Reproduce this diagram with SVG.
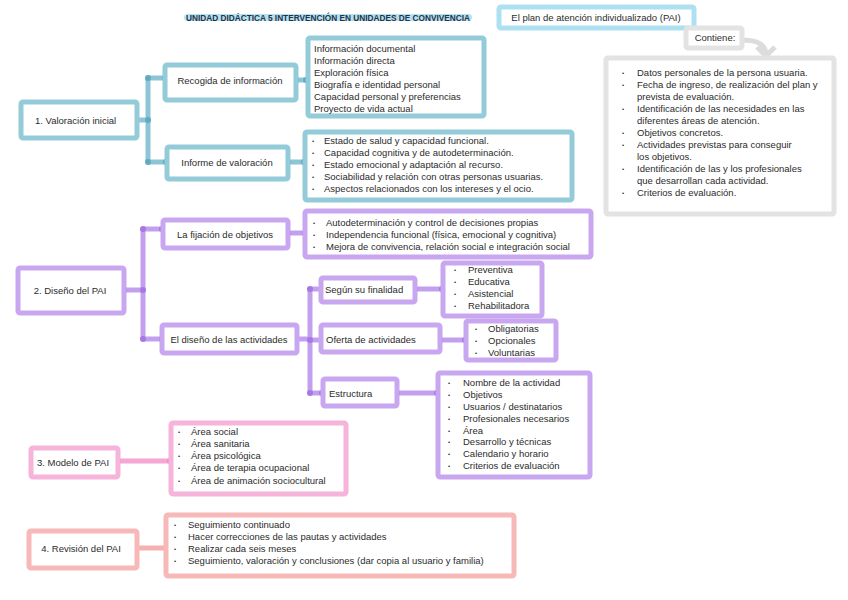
<svg xmlns="http://www.w3.org/2000/svg" width="848" height="600" viewBox="0 0 848 600">
<style>
text{font-family:"Liberation Sans",Arial,sans-serif;fill:#2b2b2b;font-size:9.5px}
.box{fill:#fff;stroke-width:5}
.b{stroke:#93cbd9}.p{stroke:#c8a7f0}.k{stroke:#f7b4da}.r{stroke:#f7b8b8}.g{stroke:#e3e3e3}.lb{stroke:#ade0f1}
.c{fill:none;stroke-width:5;stroke-linecap:butt}
.cb{stroke:#8cc6d6}.cp{stroke:#c2a0ee}.ck{stroke:#f5a6d2}.cr{stroke:#f5b0b0}
.db{fill:#63a9c0}.dp{fill:#a678e2}.dk{fill:#f08cc4}.dr{fill:#f09c9c}
.m{text-anchor:middle}
.t{font-weight:bold;font-size:8.6px;fill:#23324a}
.u{font-size:6px}
</style>

<g id="title">
<rect x="184" y="14" width="288" height="7" rx="3.5" fill="#b5e2f1"/>
<text class="t" x="186" y="21" textLength="284" lengthAdjust="spacingAndGlyphs">UNIDAD DIDÁCTICA 5 INTERVENCIÓN EN UNIDADES DE CONVIVENCIA</text>
</g>
<g id="pai">
<rect class="box lb" x="499" y="7" width="195" height="21" rx="2"/>
<text class="m" x="596" y="21">El plan de atención individualizado (PAI)</text>
</g>

<g id="connectors">
<path class="c cb" d="M137 120 H148 M148 78 V162 M148 78 H166 M148 162 H168 M296 80 H308 M288 162 H305"/>
<circle class="db" cx="148" cy="78" r="3"/><circle class="db" cx="148" cy="120" r="3"/><circle class="db" cx="148" cy="162" r="3"/>
<circle class="db" cx="165" cy="78" r="3"/><circle class="db" cx="166" cy="162" r="3"/>
<circle class="db" cx="296" cy="80" r="3"/><circle class="db" cx="306" cy="80" r="3"/>
<circle class="db" cx="288" cy="162" r="3"/><circle class="db" cx="304" cy="162" r="3"/>
<path class="c cp" d="M124 290 H143 M143 229 V339 M143 229 H163 M143 339 H162 M288 233 H305 M297 339 H310 M310 289 V393 M310 289 H321 M310 340 H321 M310 393 H323 M415 289 H443 M440 340 H466 M397 393 H438"/>
<circle class="dp" cx="143" cy="229" r="3"/><circle class="dp" cx="143" cy="290" r="3"/><circle class="dp" cx="143" cy="339" r="3"/>
<circle class="dp" cx="124" cy="290" r="3"/><circle class="dp" cx="162" cy="229" r="3"/><circle class="dp" cx="162" cy="339" r="3"/>
<circle class="dp" cx="288" cy="233" r="3"/><circle class="dp" cx="305" cy="233" r="3"/>
<circle class="dp" cx="310" cy="289" r="3"/><circle class="dp" cx="310" cy="340" r="3"/><circle class="dp" cx="310" cy="393" r="3"/>
<circle class="dp" cx="322" cy="393" r="3"/>
<circle class="dp" cx="415" cy="289" r="3"/><circle class="dp" cx="442" cy="289" r="3"/>
<circle class="dp" cx="440" cy="340" r="3"/><circle class="dp" cx="465" cy="340" r="3"/>
<circle class="dp" cx="397" cy="393" r="3"/><circle class="dp" cx="437" cy="393" r="3"/>
<path class="c ck" d="M118 461 H171"/>
<circle class="dk" cx="118" cy="461" r="3"/><circle class="dk" cx="170" cy="461" r="3"/>
<path class="c cr" d="M137 548 H166"/>
<path d="M742 40 C758 40 766 44 766 55" fill="none" stroke="#dcdcdc" stroke-width="5"/>
<polyline points="757,47 766,56 775,47" fill="none" stroke="#dcdcdc" stroke-width="5" stroke-linejoin="round"/>
</g>

<g id="valoracion">
<rect class="box b" x="21" y="102" width="116" height="36" rx="2"/>
<text x="35" y="124">1.  Valoración inicial</text>
</g>
<g id="recogida">
<rect class="box b" x="165" y="65" width="131" height="35" rx="2"/>
<text class="m" x="230" y="84">Recogida de información</text>
</g>
<g id="recogida-list">
<rect class="box b" x="308" y="38" width="176" height="78" rx="2"/>
<text x="314" y="52">Información documental</text>
<text x="314" y="64">Información directa</text>
<text x="314" y="76">Exploración física</text>
<text x="314" y="88">Biografía e identidad personal</text>
<text x="314" y="100">Capacidad personal y preferencias</text>
<text x="314" y="112">Proyecto de vida actual</text>
</g>
<g id="informe">
<rect class="box b" x="167" y="147" width="121" height="32" rx="2"/>
<text class="m" x="227" y="166">Informe de valoración</text>
</g>
<g id="informe-list">
<rect class="box b" x="305" y="132" width="267" height="68" rx="2"/>
<text class="u" x="312" y="143">•</text><text class="u" x="312" y="155">•</text><text class="u" x="312" y="167">•</text><text class="u" x="312" y="179">•</text><text class="u" x="312" y="191">•</text>
<text x="324" y="144">Estado de salud y capacidad funcional.</text>
<text x="324" y="156">Capacidad cognitiva y de autodeterminación.</text>
<text x="324" y="168">Estado emocional y adaptación al recurso.</text>
<text x="324" y="180">Sociabilidad y relación con otras personas usuarias.</text>
<text x="324" y="192">Aspectos relacionados con los intereses y el ocio.</text>
</g>

<g id="contiene">
<rect class="box g" x="686" y="28" width="56" height="20" rx="2"/>
<text class="m" x="715" y="41" font-size="9">Contiene:</text>
</g>
<g id="contiene-list">
<rect class="box g" x="606" y="58" width="228" height="156" rx="2"/>
<text class="u" x="622" y="75">•</text><text class="u" x="622" y="87">•</text><text class="u" x="622" y="111">•</text><text class="u" x="622" y="135">•</text><text class="u" x="622" y="147">•</text><text class="u" x="622" y="171">•</text><text class="u" x="622" y="195">•</text>
<text x="637" y="76" font-size="9">Datos personales de la persona usuaria.</text>
<text x="637" y="88" font-size="9">Fecha de ingreso, de realización del plan y</text>
<text x="637" y="100" font-size="9">prevista de evaluación.</text>
<text x="637" y="112" font-size="9">Identificación de las necesidades en las</text>
<text x="637" y="124" font-size="9">diferentes áreas de atención.</text>
<text x="637" y="136" font-size="9">Objetivos concretos.</text>
<text x="637" y="148" font-size="9">Actividades previstas para conseguir</text>
<text x="637" y="160" font-size="9">los objetivos.</text>
<text x="637" y="172" font-size="9">Identificación de las y los profesionales</text>
<text x="637" y="184" font-size="9">que desarrollan cada actividad.</text>
<text x="637" y="196" font-size="9">Criterios de evaluación.</text>
</g>

<g id="diseno">
<rect class="box p" x="18" y="268" width="106" height="45" rx="2"/>
<text class="m" x="70" y="294">2. Diseño del PAI</text>
</g>
<g id="fijacion">
<rect class="box p" x="163" y="220" width="125" height="28" rx="2"/>
<text class="m" x="225" y="238">La fijación de objetivos</text>
</g>
<g id="fijacion-list">
<rect class="box p" x="305" y="211" width="286" height="46" rx="2"/>
<text class="u" x="313" y="225">•</text><text class="u" x="313" y="237">•</text><text class="u" x="313" y="249">•</text>
<text x="326" y="226" font-size="9">Autodeterminación y control de decisiones propias</text>
<text x="326" y="238" font-size="9">Independencia funcional (física, emocional y cognitiva)</text>
<text x="326" y="250" font-size="9">Mejora de convivencia, relación social e integración social</text>
</g>
<g id="actividades">
<rect class="box p" x="162" y="325" width="135" height="28" rx="2"/>
<text class="m" x="229" y="343">El diseño de las actividades</text>
</g>
<g id="finalidad">
<rect class="box p" x="321" y="278" width="94" height="24" rx="2"/>
<text x="325" y="293">Según su finalidad</text>
</g>
<g id="finalidad-list">
<rect class="box p" x="443" y="263" width="99" height="53" rx="2"/>
<text class="u" x="454" y="272">•</text><text class="u" x="454" y="284">•</text><text class="u" x="454" y="296">•</text><text class="u" x="454" y="308">•</text>
<text x="468" y="273" font-size="9">Preventiva</text>
<text x="468" y="285" font-size="9">Educativa</text>
<text x="468" y="297" font-size="9">Asistencial</text>
<text x="468" y="309" font-size="9">Rehabilitadora</text>
</g>
<g id="oferta">
<rect class="box p" x="321" y="325" width="119" height="27" rx="2"/>
<text x="326" y="343">Oferta de actividades</text>
</g>
<g id="oferta-list">
<rect class="box p" x="466" y="321" width="90" height="39" rx="2"/>
<text class="u" x="475" y="331">•</text><text class="u" x="475" y="343">•</text><text class="u" x="475" y="355">•</text>
<text x="488" y="332" font-size="9">Obligatorias</text>
<text x="488" y="344" font-size="9">Opcionales</text>
<text x="488" y="356" font-size="9">Voluntarias</text>
</g>
<g id="estructura">
<rect class="box p" x="323" y="379" width="74" height="27" rx="2"/>
<text x="329" y="397">Estructura</text>
</g>
<g id="estructura-list">
<rect class="box p" x="438" y="373" width="152" height="104" rx="2"/>
<text class="u" x="448" y="385">•</text><text class="u" x="448" y="397">•</text><text class="u" x="448" y="409">•</text><text class="u" x="448" y="421">•</text><text class="u" x="448" y="433">•</text><text class="u" x="448" y="444">•</text><text class="u" x="448" y="456">•</text><text class="u" x="448" y="468">•</text>
<text x="463" y="386" font-size="9">Nombre de la actividad</text>
<text x="463" y="398" font-size="9">Objetivos</text>
<text x="463" y="410" font-size="9">Usuarios / destinatarios</text>
<text x="463" y="422" font-size="9">Profesionales necesarios</text>
<text x="463" y="434" font-size="9">Área</text>
<text x="463" y="445" font-size="9">Desarrollo y técnicas</text>
<text x="463" y="457" font-size="9">Calendario y horario</text>
<text x="463" y="469" font-size="9">Criterios de evaluación</text>
</g>

<g id="modelo">
<rect class="box k" x="31" y="448" width="87" height="29" rx="2"/>
<text class="m" x="73" y="466" font-size="9">3. Modelo de PAI</text>
</g>
<g id="modelo-list">
<rect class="box k" x="171" y="423" width="175" height="71" rx="2"/>
<text class="u" x="178" y="434">•</text><text class="u" x="178" y="446">•</text><text class="u" x="178" y="458">•</text><text class="u" x="178" y="470">•</text><text class="u" x="178" y="483">•</text>
<text x="191" y="435">Área social</text>
<text x="191" y="447">Área sanitaria</text>
<text x="191" y="459">Área psicológica</text>
<text x="191" y="471">Área de terapia ocupacional</text>
<text x="191" y="484">Área de animación sociocultural</text>
</g>

<g id="revision">
<rect class="box r" x="29" y="531" width="108" height="37" rx="2"/>
<text class="m" x="81" y="552" font-size="9">4. Revisión del PAI</text>
</g>
<g id="revision-list">
<rect class="box r" x="166" y="515" width="348" height="61" rx="2"/>
<text class="u" x="174" y="527">•</text><text class="u" x="174" y="539">•</text><text class="u" x="174" y="551">•</text><text class="u" x="174" y="563">•</text>
<text x="188" y="528" font-size="9">Seguimiento continuado</text>
<text x="188" y="540" font-size="9">Hacer correcciones de las pautas y actividades</text>
<text x="188" y="552" font-size="9">Realizar cada seis meses</text>
<text x="188" y="564" font-size="9">Seguimiento, valoración y conclusiones (dar copia al usuario y familia)</text>
</g>
</svg>
